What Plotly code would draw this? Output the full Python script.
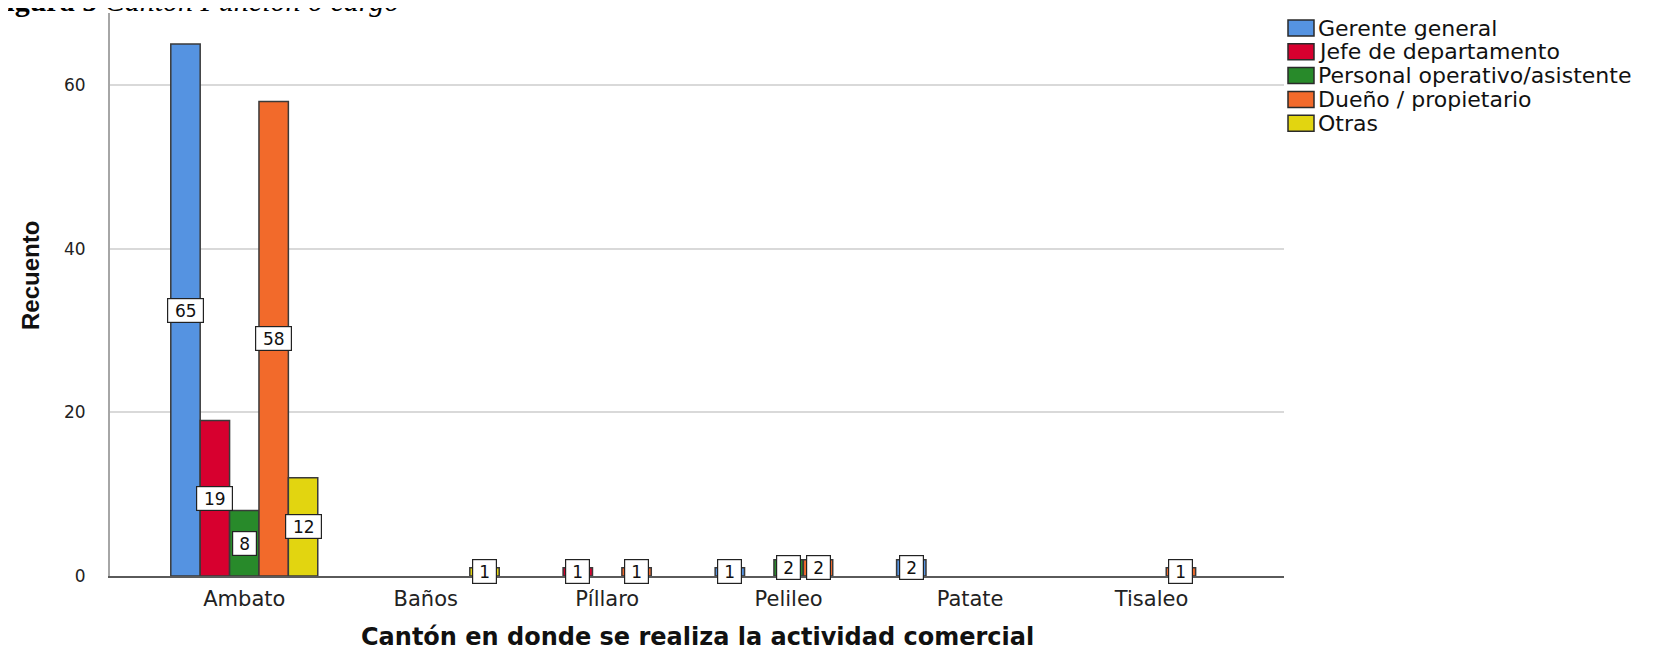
import plotly.graph_objects as go

# ---- data ----
cantones = ["Ambato", "Baños", "Píllaro", "Pelileo", "Patate", "Tisaleo"]
cargos = ["Gerente general", "Jefe de departamento", "Personal operativo/asistente",
          "Dueño / propietario", "Otras"]
gerente_general = [65, 0, 0, 1, 2, 0]
jefe_departamento = [19, 0, 1, 0, 0, 0]
personal_operativo = [8, 0, 0, 2, 0, 0]
dueno_propietario = [58, 0, 1, 2, 0, 1]
otras = [12, 1, 0, 0, 0, 0]
y_ticks = [0, 20, 40, 60]

series = [gerente_general, jefe_departamento, personal_operativo, dueno_propietario, otras]
colores = ["#5593e1", "#d7002f", "#288a2a", "#f26a2b", "#e2d510"]

# ---- layout constants (pixels) ----
OFF = 8                      # page body margin offset
W, H = 1657 - OFF, 652 - OFF
ML, MR, MT, MB = 102, 373, 5, 76
PW = W - ML - MR
PH = H - MT - MB
BARGAP = 0.19
FONT = "DejaVu Sans, Arial, sans-serif"


def px_x(sx):
    return (sx - OFF - ML) / PW


def px_y(sy):
    return (H - MB - (sy - OFF)) / PH


xs = list(range(len(cantones)))
fig = go.Figure()
for name, vals, col in zip(cargos, series, colores):
    fig.add_trace(go.Bar(
        x=xs, y=[v if v else None for v in vals], name=name, showlegend=False,
        marker=dict(color=col, line=dict(color="#3a3a3a", width=1.5)),
    ))

annotations = []
n = len(series)
bw = (1 - BARGAP) / n
for k, vals in enumerate(series):
    for i, v in enumerate(vals):
        if v > 0:
            t = str(v)
            annotations.append(dict(
                x=xs[i] + (k - (n - 1) / 2) * bw, y=v / 2, xref="x", yref="y",
                text=t, showarrow=False,
                font=dict(family=FONT, size=17, color="#111"),
                bgcolor="white", bordercolor="#222", borderwidth=1.2,
                borderpad=1, width=12 * len(t) + 9, height=21,
            ))

# legend (drawn manually to match swatch size and spacing)
shapes = []
leg_y0 = 28
leg_dy = 23.8
for k, (name, col) in enumerate(zip(cargos, colores)):
    cy = leg_y0 + k * leg_dy
    shapes.append(dict(type="rect", xref="paper", yref="paper",
                       x0=px_x(1288), x1=px_x(1314), y0=px_y(cy + 8), y1=px_y(cy - 8),
                       fillcolor=col, line=dict(color="#2a2a2a", width=1.5)))
    annotations.append(dict(x=px_x(1316), y=px_y(cy), xref="paper", yref="paper",
                            xanchor="left", yanchor="middle", showarrow=False,
                            text=name, font=dict(family=FONT, size=22, color="#111")))

# axis titles
annotations.append(dict(x=px_x(30), y=px_y(276), xref="paper", yref="paper",
                        text="<b>Recuento</b>", textangle=-90, showarrow=False,
                        xanchor="center", yanchor="middle",
                        font=dict(family="Liberation Sans, Arial, sans-serif",
                                  size=24, color="#111")))
annotations.append(dict(x=0.5, y=px_y(637), xref="paper", yref="paper",
                        text="<b>Cantón en donde se realiza la actividad comercial</b>",
                        showarrow=False, xanchor="center", yanchor="middle",
                        font=dict(family=FONT, size=24, color="#111")))
# figure caption (partly cut at the top-left edge, as in the source)
annotations.append(dict(x=px_x(0), y=px_y(0.5), xref="paper", yref="paper",
                        xanchor="left", yanchor="middle", xshift=-14, showarrow=False,
                        text="<b>Figura 5</b> <i>Cantón Función o cargo</i>",
                        font=dict(family="Liberation Serif, Times New Roman, serif",
                                  size=30, color="#000")))

fig.update_layout(
    width=W, height=H, autosize=False,
    margin=dict(l=ML, r=MR, t=MT, b=MB),
    paper_bgcolor="white", plot_bgcolor="white",
    barmode="group", bargap=BARGAP, bargroupgap=0,
    showlegend=False,
    annotations=annotations, shapes=shapes,
    xaxis=dict(range=[-0.74, 5.73], tickmode="array", tickvals=xs, ticktext=cantones,
               showline=True, linecolor="#5a5a5a", linewidth=1.5,
               ticks="outside", ticklen=3, tickcolor="rgba(0,0,0,0)",
               tickfont=dict(family=FONT, size=21, color="#222"),
               showgrid=False, zeroline=False),
    yaxis=dict(range=[0, 68.8], tickmode="array", tickvals=y_ticks,
               showline=True, linecolor="#a6a6a6", linewidth=2,
               ticks="outside", ticklen=19, tickcolor="rgba(0,0,0,0)",
               tickfont=dict(family=FONT, size=17, color="#222"),
               showgrid=True, gridcolor="#d9d9d9", gridwidth=1.5, zeroline=False),
)

fig.write_html("out.html")
